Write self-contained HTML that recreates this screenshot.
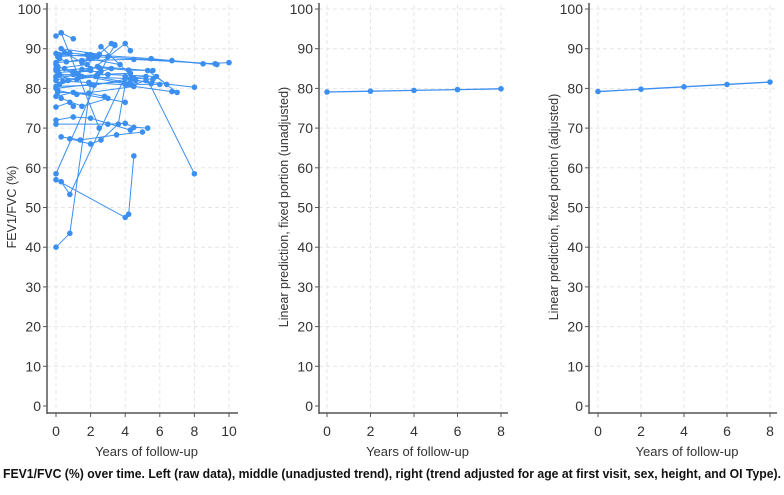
<!DOCTYPE html>
<html><head><meta charset="utf-8"><style>
body{margin:0;background:#fff;width:784px;height:490px;overflow:hidden;font-family:"Liberation Sans",sans-serif}
svg text{font-family:"Liberation Sans",sans-serif}
</style></head><body>
<svg id="c" width="784" height="490"></svg>
<script>
// Left panel: raw data per subject [years, value]
const subjects = [
 [[0,93.2],[0.3,94],[1,92.5]],
 [[0.3,94],[2.5,70]],
 [[0.1,88],[2,88.5],[5.5,87.5],[8.5,86.2],[10,86.5]],
 [[0,86.5],[1.5,87],[4.5,87.3],[9.2,86.2]],
 [[0.2,88.5],[2.2,88],[6.7,87],[9.3,86]],
 [[0,85],[1.8,86],[3.2,91.3],[3.4,91]],
 [[0.1,84],[2,84.5],[4,91.3],[4.3,89.5]],
 [[0,83],[3,83.5],[5.8,83],[6.4,81]],
 [[0,82],[2.4,85.5],[5.3,84.5],[7,79]],
 [[0.2,81],[1.5,83],[4,82.5],[5.2,83],[8,58.5]],
 [[0,80],[2,81],[4.6,82],[8,80.3]],
 [[0.1,79.5],[1.2,78.5],[4.5,80.5],[6.7,79.2]],
 [[0,78],[1,79],[4,76.5]],
 [[0.3,77.5],[1.5,75.5],[3,77.5]],
 [[0,75.3],[0.8,76.5],[1,75.5]],
 [[0,72],[1,72.8],[2,72.5],[4.3,69.5]],
 [[0,71],[3,71],[4,71.2],[4.5,70.2],[5.3,70]],
 [[0.3,67.8],[1.4,67],[3.5,68.3],[5,69]],
 [[0.8,67.3],[2,66],[2.6,67],[3.6,71],[4,81]],
 [[0,58.5],[3,88],[3.4,90.8]],
 [[0,57],[4,47.5],[4.2,48.3],[4.5,63]],
 [[0.3,56.5],[0.8,53.3],[4,83]],
 [[0,40],[0.8,43.5],[2,81]],
 [[0,86],[0.5,89],[1.5,86.5],[2.4,88]],
 [[0.1,85.5],[1,84.2],[2.6,84.3],[3.2,85]],
 [[0,84.5],[2.5,85.2],[4.2,84.6],[5.6,84.5]],
 [[0.2,83.5],[1.3,83.4],[4.2,81],[6,81]],
 [[0,82.8],[1.2,82.3],[2.3,83],[4.3,81.3]],
 [[0.4,81.8],[1.9,81.5],[4.4,80.8],[5.2,82]],
 [[0,80.5],[2.2,80.8],[4.3,82.5],[5.5,81.2]],
 [[0.1,79],[1.9,78.8],[2.8,78]],
 [[0.2,87.5],[0.6,86.7],[1.9,87.5],[3.7,86]],
 [[0,88.8],[0.8,88.9],[1.8,88.5],[2.1,88.2]],
 [[0.5,85],[1,83.5],[1.5,84.8],[2,85]],
 [[0.1,84.5],[0.7,82],[2.4,83.5],[4.3,83.8]],
 [[0.3,90],[2.5,88.6]],
 [[2.6,90.5],[4.5,82.6],[5.6,82.3]]
];
// Middle panel (unadjusted) and right panel (adjusted)
const predYears = [0,2,4,6,8];
const unadjusted = [79.1,79.3,79.5,79.7,79.9];
const adjusted = [79.2,79.8,80.4,81.0,81.6];
const yTicks = [0,10,20,30,40,50,60,70,80,90,100];

const NS="http://www.w3.org/2000/svg", svg=document.getElementById('c');
function mk(tag,attrs,parent,txt){const e=document.createElementNS(NS,tag);for(const k in attrs)e.setAttribute(k,attrs[k]);if(txt!==undefined)e.textContent=txt;(parent||svg).appendChild(e);return e;}
const yS=v=>406-v*3.97;
const BLUE="#3a8ff0";

function panel(name,axX,x0,pxPer,xTicks,xMax,right,ylab){
  const g=mk('g',{},svg);
  
  
  const xS=t=>x0+t*pxPer;
  for(const v of yTicks){ if(v===0)continue;
    const l=mk('line',{x1:axX,x2:right,y1:yS(v),y2:yS(v),stroke:'#e6e6e6','stroke-dasharray':'4,3'},g);
    }
  for(const t of xTicks){
    const l=mk('line',{x1:xS(t),x2:xS(t),y1:5,y2:413,stroke:'#e6e6e6','stroke-dasharray':'4,3'},g);
    }
  const ya=mk('line',{x1:axX,x2:axX,y1:3,y2:414,stroke:'#555','stroke-width':1.5},g);
  
  const xa=mk('line',{x1:axX,x2:right,y1:413,y2:413,stroke:'#555','stroke-width':1.5},g);
  
  for(const v of yTicks){
    mk('line',{x1:axX-4,x2:axX,y1:yS(v),y2:yS(v),stroke:'#555'},g);
    const t=mk('text',{x:axX-6,y:yS(v)+5,'text-anchor':'end','font-size':14,fill:'#333'},g,String(v));
    }
  for(const v of xTicks){
    mk('line',{x1:xS(v),x2:xS(v),y1:413,y2:417,stroke:'#555'},g);
    const t=mk('text',{x:xS(v),y:436,'text-anchor':'middle','font-size':14,fill:'#333'},g,String(v));
    }
  const xl=mk('text',{x:(axX+right)/2+4,y:456,'text-anchor':'middle','font-size':13,fill:'#333'},g,'Years of follow-up');
  
  const yl=mk('text',{x:0,y:0,'text-anchor':'middle','font-size':12.5,fill:'#333',transform:`translate(${axX-31},207) rotate(-90)`},g,ylab);
  
  return {g,xS};
}

const L=panel('panel-raw',47,56,17.3,[0,2,4,6,8,10],10,238,'FEV1/FVC (%)');
subjects.forEach(s=>{
  const p=mk('polyline',{points:s.map(d=>L.xS(d[0])+','+yS(d[1])).join(' '),fill:'none',stroke:BLUE,'stroke-width':1},L.g);
  
  s.forEach(d=>{const c=mk('circle',{cx:L.xS(d[0]),cy:yS(d[1]),r:2.8,fill:BLUE},L.g);
    });
});

function pred(name,axX,x0,right,vals,lab){
  const P=panel(name,axX,x0,(right-x0-7)/8,[0,2,4,6,8],8,right,lab);
  const p=mk('polyline',{points:predYears.map((t,i)=>P.xS(t)+','+yS(vals[i])).join(' '),fill:'none',stroke:BLUE,'stroke-width':1.3},P.g);
  
  predYears.forEach((t,i)=>{const c=mk('circle',{cx:P.xS(t),cy:yS(vals[i]),r:2.8,fill:BLUE},P.g);
    });
}
pred('panel-unadjusted',319,327,508,unadjusted,'Linear prediction, fixed portion (unadjusted)');
pred('panel-adjusted',589,598,777,adjusted,'Linear prediction, fixed portion (adjusted)');

const cap=mk('text',{x:3,y:478,'font-size':12.5,'font-weight':'bold',fill:'#111',textLength:778,lengthAdjust:'spacingAndGlyphs'},svg,'FEV1/FVC (%) over time. Left (raw data), middle (unadjusted trend), right (trend adjusted for age at first visit, sex, height, and OI Type).');

</script>
</body></html>
